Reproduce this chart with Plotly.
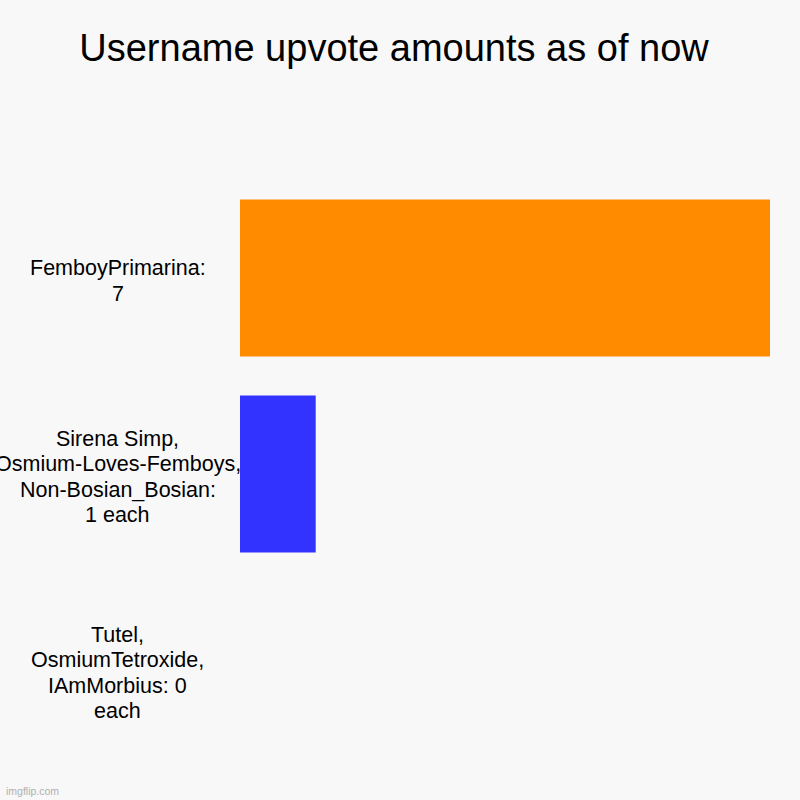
import plotly.graph_objects as go

categories = ["FemboyPrimarina:\n7",
              "Sirena Simp,\nOsmium-Loves-Femboys,\nNon-Bosian_Bosian:\n1 each",
              "Tutel,\nOsmiumTetroxide,\nIAmMorbius: 0\neach"]
values = [7, 1, 0]
colors = ["#ff8c00", "#3333ff", "#33cc33"]
title = "Username upvote amounts as of now"

FONT = "Liberation Sans, Arial, sans-serif"
BG = "#f8f8f8"

fig = go.Figure(go.Bar(
    x=values, y=list(range(len(categories))), orientation="h",
    marker=dict(color=colors, line=dict(width=0)),
    hoverinfo="skip",
))

annotations = []
LINE = 25.5
for ci, cat in enumerate(categories):
    lines = cat.split("\n")
    n = len(lines)
    for li, line in enumerate(lines):
        annotations.append(dict(
            x=-0.2302, xref="paper", y=ci, yref="y",
            text=line, showarrow=False, xanchor="center", yanchor="middle",
            yshift=-(li - (n - 1) / 2) * LINE - 3,
            font=dict(family=FONT, size=21.5, color="#000000"),
        ))
annotations.append(dict(
    x=-0.4453, xref="paper", y=-0.039, yref="paper",
    text="imgflip.com", showarrow=False, xanchor="left", yanchor="middle",
    font=dict(family=FONT, size=10.5, color="#b0b0b0"),
))

fig.update_layout(
    width=800, height=800,
    paper_bgcolor=BG, plot_bgcolor=BG,
    margin=dict(l=240, r=30, t=180, b=32),
    bargap=0.2,
    showlegend=False,
    title=dict(text=title, x=0.4925, xanchor="center", y=0.94, yanchor="middle",
               font=dict(family=FONT, size=38, color="#000000")),
    xaxis=dict(range=[0, 7], visible=False, fixedrange=True),
    yaxis=dict(range=[2.5, -0.5], visible=False, fixedrange=True),
    annotations=annotations,
)

fig.write_html(
    "out.html",
    config={"displayModeBar": False},
    post_script="document.body.style.margin='0';document.body.style.background='#f8f8f8';document.body.style.overflow='hidden';",
)
